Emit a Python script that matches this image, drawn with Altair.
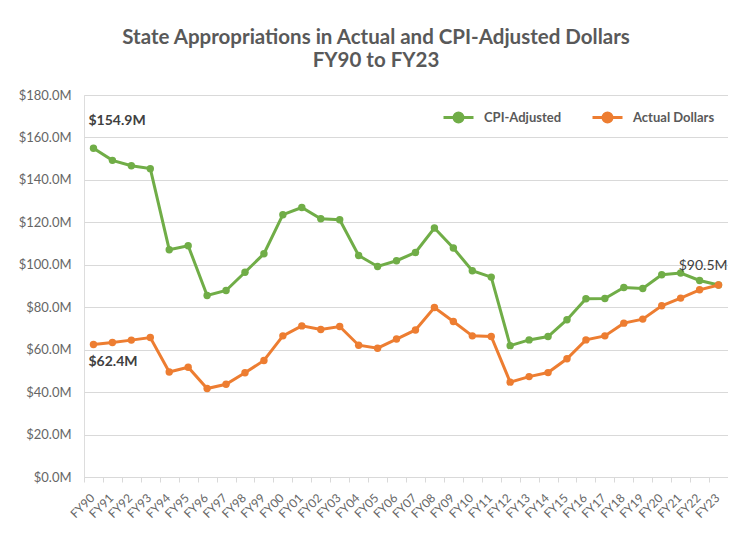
import altair as alt
import pandas as pd

years = ["FY90", "FY91", "FY92", "FY93", "FY94", "FY95", "FY96", "FY97", "FY98", "FY99",
         "FY00", "FY01", "FY02", "FY03", "FY04", "FY05", "FY06", "FY07", "FY08", "FY09",
         "FY10", "FY11", "FY12", "FY13", "FY14", "FY15", "FY16", "FY17", "FY18", "FY19",
         "FY20", "FY21", "FY22", "FY23"]
cpi_adjusted = [154.9, 149.2, 146.7, 145.3, 107.1, 109.0, 85.5, 87.9, 96.5, 105.2,
                123.6, 127.0, 121.7, 121.2, 104.4, 99.2, 101.9, 105.8, 117.3, 107.9,
                97.2, 94.2, 61.9, 64.6, 66.2, 74.1, 84.0, 84.1, 89.3, 88.8,
                95.3, 96.1, 92.6, 90.5]
actual_dollars = [62.4, 63.4, 64.5, 65.7, 49.5, 51.7, 41.7, 43.7, 49.1, 54.9,
                  66.5, 71.2, 69.5, 70.9, 62.1, 60.7, 65.0, 69.3, 79.9, 73.3,
                  66.5, 66.2, 44.7, 47.3, 49.2, 55.7, 64.6, 66.5, 72.5, 74.4,
                  80.7, 84.3, 88.2, 90.5]
series_names = ["CPI-Adjusted", "Actual Dollars"]
series_colors = ["#70AD47", "#ED7D31"]
y_ticks = [0, 20, 40, 60, 80, 100, 120, 140, 160, 180]

FONT = "Lato"

cpi_df = pd.DataFrame({"year": years, "series": series_names[0], "value": cpi_adjusted})
act_df = pd.DataFrame({"year": years, "series": series_names[1], "value": actual_dollars})

legend_path = "M-1,0H1M-0.3,0A0.3,0.3,0,1,1,0.3,0A0.3,0.3,0,1,1,-0.3,0Z"

x_enc = alt.X(
    "year:N", sort=years, bandPosition=0.5,
    scale=alt.Scale(type="band", paddingInner=0, paddingOuter=0),
    axis=alt.Axis(title=None, labelAngle=-45, tickBand="extent", grid=False,
                  domainColor="#d9d9d9", tickColor="#d9d9d9", tickSize=5,
                  labelColor="#666666", labelFontSize=12, labelFont=FONT,
                  labelPadding=10, labelOffset=-5),
)
y_enc = alt.Y(
    "value:Q",
    scale=alt.Scale(domain=[0, 180], nice=False),
    axis=alt.Axis(title=None, values=y_ticks, domain=False, ticks=False,
                  gridColor="#d9d9d9", labelColor="#666666", labelFontSize=13,
                  labelFont=FONT, labelPadding=13,
                  labelExpr="'$' + format(datum.value, '.1f') + 'M'"),
)
color_enc = alt.Color(
    "series:N",
    scale=alt.Scale(domain=series_names, range=series_colors),
    legend=alt.Legend(title=None, orient="none", legendX=358, legendY=6,
                      direction="horizontal", symbolType=legend_path,
                      symbolSize=900, symbolStrokeWidth=3,
                      labelFont=FONT, labelFontSize=13, labelFontWeight="bold",
                      labelColor="#595959", labelOffset=9, columnPadding=24),
)


def series_layer(df):
    line = alt.Chart(df).mark_line(strokeWidth=3).encode(x=x_enc, y=y_enc, color=color_enc)
    pts = alt.Chart(df).mark_point(filled=True, size=55, opacity=1).encode(
        x=x_enc, y=y_enc, color=color_enc)
    return line + pts


def label_layer(df, year, dx, dy, align, weight):
    return alt.Chart(df).transform_filter(alt.datum.year == year).transform_calculate(
        label="'$' + format(datum.value, '.1f') + 'M'"
    ).mark_text(dx=dx, dy=dy, align=align, fontSize=14, fontWeight=weight,
                font=FONT, color="#404040").encode(x=x_enc, y=y_enc, text="label:N")


chart = alt.layer(
    series_layer(cpi_df),
    series_layer(act_df),
    label_layer(cpi_df, "FY90", -5, -27, "left", "bold"),
    label_layer(act_df, "FY90", -5, 17, "left", "bold"),
    label_layer(act_df, "FY23", 9, -19, "right", "normal"),
).properties(
    width=644,
    height=382,
    title=alt.Title(
        ["State Appropriations in Actual and CPI-Adjusted Dollars", "FY90 to FY23"],
        font=FONT, fontSize=20.5, fontWeight="bold", color="#595959",
        anchor="middle", frame="group", dx=-30, offset=18, lineHeight=23,
    ),
    autosize=alt.AutoSizeParams(type="none"),
    padding={"left": 76, "top": 87, "right": 0, "bottom": 50},
).configure_view(stroke=None).configure(background="white")

chart.save("out.html", embed_options={"renderer": "svg", "actions": False})
